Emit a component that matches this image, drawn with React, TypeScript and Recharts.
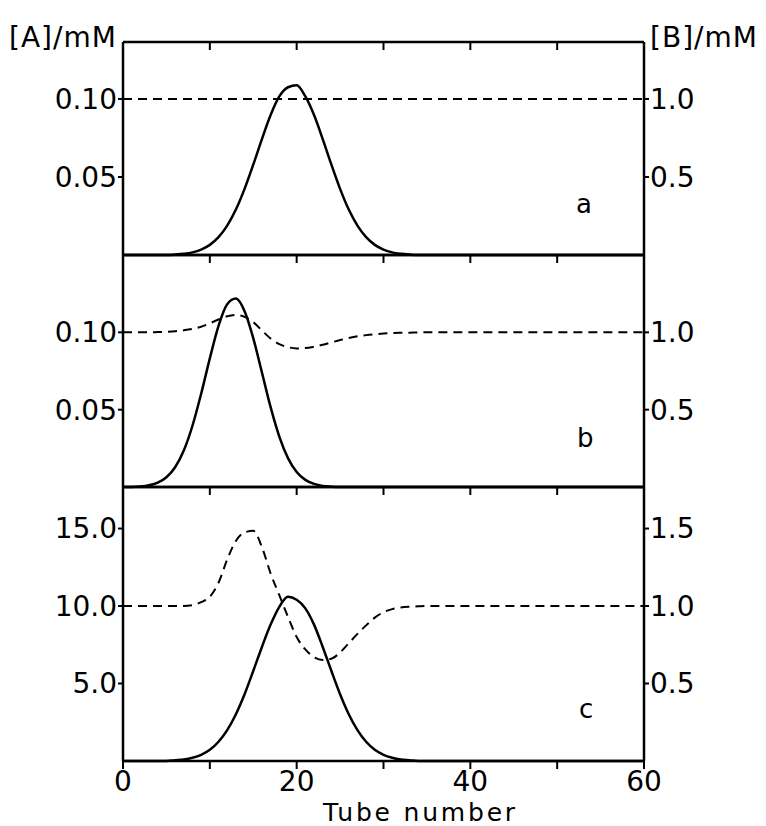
import React from "react";
import { Line, LineChart, XAxis, YAxis } from "recharts";

// tube positions shared by all three panels
const tubes = [
  0, 1, 2, 3, 4, 5, 6, 7, 8, 9, 10, 11, 12, 13, 14, 15, 16, 17, 18, 19, 20,
  21, 22, 23, 24, 25, 26, 27, 28, 29, 30, 31, 32, 33, 34, 35, 36, 37, 38, 39, 40,
  45, 50, 55, 60
];

// panel a: [A] (solid) and [B] (dashed)
const solidA = [
  0, 0, 0, 0, 0, 0, 0.0003, 0.0008, 0.0017, 0.0035, 0.0065, 0.0114, 0.0188, 0.0291, 0.0424,
  0.0579, 0.0743, 0.0897, 0.1016, 0.1075, 0.1088, 0.1016, 0.0897, 0.0743, 0.0579, 0.0424,
  0.0291, 0.0188, 0.0114, 0.0065, 0.0035, 0.0017, 0.0008, 0.0003, 0, 0, 0, 0, 0, 0, 0,
  0, 0, 0, 0
];
const dashedA = [
  1, 1, 1, 1, 1, 1, 1, 1, 1, 1, 1, 1, 1, 1, 1, 1, 1, 1, 1, 1, 1, 1, 1, 1, 1, 1, 1, 1, 1, 1,
  1, 1, 1, 1, 1, 1, 1, 1, 1, 1, 1, 1, 1, 1, 1
];

// panel b
const solidB = [
  0, 0, 0.0003, 0.0011, 0.0028, 0.0063, 0.0128, 0.0236, 0.0396, 0.0603, 0.0832, 0.1042,
  0.1182, 0.1218, 0.1137, 0.0963, 0.074, 0.0516, 0.0326, 0.0187, 0.0097, 0.0046, 0.002,
  0.0007, 0.0002, 0, 0, 0, 0, 0, 0, 0, 0, 0, 0, 0, 0, 0, 0, 0, 0, 0, 0, 0, 0
];
const dashedB = [
  1, 1, 1, 1, 1.002, 1.004, 1.007, 1.013, 1.022, 1.036, 1.058, 1.083, 1.104, 1.112, 1.1,
  1.066, 1.012, 0.96, 0.924, 0.904, 0.896, 0.898, 0.907, 0.92, 0.935, 0.95, 0.963, 0.974,
  0.982, 0.988, 0.992, 0.995, 0.997, 0.998, 0.999, 1, 1, 1, 1, 1, 1, 1, 1, 1, 1
];

// panel c
const solidC = [
  0, 0, 0, 0, 0, 0, 0.05, 0.1, 0.21, 0.4, 0.72, 1.24, 1.99, 3.02, 4.31, 5.81, 7.36, 8.8,
  9.95, 10.6, 10.4, 9.85, 8.8, 7.36, 5.81, 4.31, 3.02, 1.99, 1.24, 0.72, 0.4, 0.21, 0.1,
  0.05, 0, 0, 0, 0, 0, 0, 0, 0, 0, 0, 0
];
const dashedC = [
  1, 1, 1, 1, 1, 1, 1, 1, 1.005, 1.025, 1.06, 1.15, 1.3, 1.42, 1.475, 1.485, 1.38, 1.21,
  1.07, 0.93, 0.8, 0.72, 0.67, 0.652, 0.66, 0.7, 0.76, 0.82, 0.875, 0.925, 0.96, 0.98, 0.99,
  0.995, 0.998, 1, 1, 1, 1, 1, 1, 1, 1, 1, 1
];

const xTicks = [0, 10, 20, 30, 40, 50, 60];
const xInnerTicks = [10, 20, 30, 40, 50];
const xLabels = [0, 20, 40, 60];
const leftTicksSmall = [0.05, 0.1];
const rightTicksSmall = [0.5, 1.0];
const leftTicksC = [5, 10, 15];
const rightTicksC = [0.5, 1.0, 1.5];

const font = "DejaVu Sans";
const tickStyle = { fill: "#000", fontSize: 28, fontFamily: font };
const frame = { stroke: "#000", strokeWidth: 2.5 };
const tickLn = { stroke: "#000", strokeWidth: 2 };

// inward tick marks hanging down from a panel's top edge
function InnerTick(props: any) {
  const { x, y } = props;
  return <line x1={x} x2={x} y1={y} y2={y + 8} stroke="#000" strokeWidth={2} />;
}

function BottomTick(props: any) {
  const { x, y, payload } = props;
  const v = payload.value;
  return (
    <g>
      <line x1={x} x2={x} y1={y} y2={y + 8} stroke="#000" strokeWidth={2} />
      {xLabels.includes(v) && (
        <text x={x} y={y + 30} textAnchor="middle" fill="#000" fontSize={28} fontFamily={font}>
          {v}
        </text>
      )}
    </g>
  );
}

type PanelProps = {
  solid: number[];
  dashed: number[];
  top: number;
  height: number;
  mTop: number;
  mBottom: number;
  maxA: number;
  maxB: number;
  leftTicks: number[];
  rightTicks: number[];
  leftDigits: number;
  labelled?: boolean;
};

function Panel(p: PanelProps) {
  const rows = tubes.map((tube, i) => ({ tube, a: p.solid[i], b: p.dashed[i] }));
  return (
    <div style={{ position: "absolute", left: 0, top: p.top }}>
      <LineChart
        width={766}
        height={p.height}
        data={rows}
        margin={{ top: p.mTop - 10, bottom: p.mBottom - 10, left: 63, right: 62 }}
      >
        <XAxis
          xAxisId="top"
          orientation="top"
          dataKey="tube"
          type="number"
          domain={[0, 60]}
          ticks={xInnerTicks}
          height={10}
          tickSize={0}
          tickMargin={0}
          axisLine={frame}
          tickLine={false}
          tick={<InnerTick />}
        />
        <XAxis
          xAxisId="bottom"
          dataKey="tube"
          type="number"
          domain={[0, 60]}
          ticks={xTicks}
          height={10}
          tickSize={0}
          tickMargin={0}
          axisLine={frame}
          tickLine={false}
          tick={p.labelled ? <BottomTick /> : false}
        />
        <YAxis
          yAxisId="A"
          orientation="left"
          width={60}
          type="number"
          domain={[0, p.maxA]}
          ticks={p.leftTicks}
          tickSize={5}
          tickMargin={1}
          axisLine={frame}
          tickLine={tickLn}
          tick={tickStyle}
          tickFormatter={(v: number) => v.toFixed(p.leftDigits)}
        />
        <YAxis
          yAxisId="B"
          orientation="right"
          width={60}
          type="number"
          domain={[0, p.maxB]}
          ticks={p.rightTicks}
          tickSize={5}
          tickMargin={1}
          axisLine={frame}
          tickLine={tickLn}
          tick={tickStyle}
          tickFormatter={(v: number) => v.toFixed(1)}
        />
        <Line
          xAxisId="bottom"
          yAxisId="B"
          type="monotone"
          dataKey="b"
          stroke="#000"
          strokeWidth={2}
          strokeDasharray="9 6"
          dot={false}
          isAnimationActive={false}
        />
        <Line
          xAxisId="bottom"
          yAxisId="A"
          type="monotone"
          dataKey="a"
          stroke="#000"
          strokeWidth={2.5}
          dot={false}
          isAnimationActive={false}
        />
      </LineChart>
    </div>
  );
}

export default function App() {
  return (
    <div style={{ position: "absolute", left: 0, top: 0, width: 766, height: 826, background: "#fff" }}>
      <Panel solid={solidA} dashed={dashedA} top={0} height={270} mTop={42} mBottom={15}
        maxA={0.1365} maxB={1.365} leftTicks={leftTicksSmall} rightTicks={rightTicksSmall} leftDigits={2} />
      <Panel solid={solidB} dashed={dashedB} top={235} height={270} mTop={20} mBottom={18}
        maxA={0.15} maxB={1.5} leftTicks={leftTicksSmall} rightTicks={rightTicksSmall} leftDigits={2} />
      <Panel solid={solidC} dashed={dashedC} top={467} height={359} mTop={20} mBottom={65}
        maxA={17.68} maxB={1.768} leftTicks={leftTicksC} rightTicks={rightTicksC} leftDigits={1} labelled />
      <svg width={766} height={826} style={{ position: "absolute", left: 0, top: 0, pointerEvents: "none" }}>
        <g fontFamily={font} fill="#000">
          <text x={9} y={47} fontSize={28} letterSpacing={1}>[A]/mM</text>
          <text x={650} y={47} fontSize={28} letterSpacing={1}>[B]/mM</text>
          <text x={576} y={213} fontSize={26}>a</text>
          <text x={577} y={447} fontSize={26}>b</text>
          <text x={579} y={718} fontSize={26}>c</text>
          <text x={323} y={820.5} fontSize={25} letterSpacing={2.8}>Tube number</text>
        </g>
      </svg>
    </div>
  );
}
